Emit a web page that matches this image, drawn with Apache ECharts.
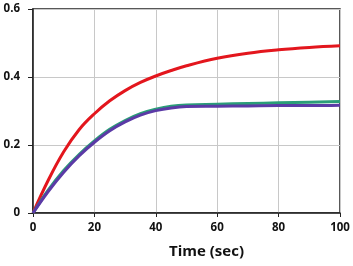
<!DOCTYPE html>
<html>
<head>
<meta charset="utf-8">
<script src="https://cdn.jsdelivr.net/npm/echarts@6/dist/echarts.min.js"></script>
<style>
  html, body { margin: 0; padding: 0; background: #fff; }
  #chart { width: 353px; height: 266px; }
</style>
</head>
<body>
<div id="chart"></div>
<script>
// data
const timeSec = [0, 5, 10, 15, 20, 25, 30, 35, 40, 45, 50, 60, 70, 80, 90, 100]
const redVals = [0, 0.097, 0.18, 0.245, 0.292, 0.33, 0.36, 0.384, 0.403, 0.419, 0.433, 0.455, 0.47, 0.48, 0.487, 0.492]
const greenVals = [0, 0.068, 0.125, 0.172, 0.212, 0.246, 0.272, 0.292, 0.305, 0.314, 0.318, 0.32, 0.322, 0.324, 0.326, 0.328]
const blueVals = [0, 0.064, 0.12, 0.168, 0.208, 0.242, 0.268, 0.288, 0.301, 0.309, 0.313, 0.314, 0.315, 0.316, 0.316, 0.317]
const xTicks = [0, 20, 40, 60, 80, 100]
const yTicks = [0, 0.2, 0.4, 0.6]

const chart = echarts.init(document.getElementById('chart'))

const pairs = vals => timeSec.map((t, i) => [t, vals[i]])
const lineSeries = (name, vals, color) => ({
  name: name,
  type: 'line',
  data: pairs(vals),
  smooth: 0.4,
  showSymbol: false,
  lineStyle: { color: color, width: 3 },
  animation: false
})

const labelFont = { color: '#111', fontWeight: 'bold', fontSize: 11.5, fontFamily: 'Open Sans' }

const option = {
  grid: { left: 33, right: 13, top: 9, bottom: 53, show: true, borderColor: '#222', borderWidth: 1.5 },
  xAxis: {
    type: 'value',
    min: xTicks[0],
    max: xTicks[xTicks.length - 1],
    interval: 20,
    name: 'Time (sec)',
    nameLocation: 'middle',
    nameGap: 31,
    nameTextStyle: { color: '#111', fontWeight: 'bold', fontSize: 15, fontFamily: 'Open Sans', padding: [0, 0, 0, 40] },
    axisLine: { lineStyle: { color: '#222', width: 1.5 } },
    axisTick: { show: true, length: 4, lineStyle: { color: '#222' } },
    axisLabel: Object.assign({ margin: 9 }, labelFont),
    splitLine: { lineStyle: { color: '#c8c8c8', width: 1 } }
  },
  yAxis: {
    type: 'value',
    min: yTicks[0],
    max: yTicks[yTicks.length - 1],
    interval: 0.2,
    axisLine: { show: true, lineStyle: { color: '#222', width: 1.5 } },
    axisTick: { show: true, length: 5, lineStyle: { color: '#222' } },
    axisLabel: Object.assign({ margin: 13, formatter: v => (v === 0 ? '0' : v.toFixed(1)) }, labelFont),
    splitLine: { lineStyle: { color: '#c8c8c8', width: 1 } }
  },
  series: [
    lineSeries('red', redVals, '#e3161d'),
    lineSeries('green', greenVals, '#2a9d78'),
    lineSeries('blue', blueVals, '#5b3aa6')
  ]
}

chart.setOption(option)
</script>
</body>
</html>
